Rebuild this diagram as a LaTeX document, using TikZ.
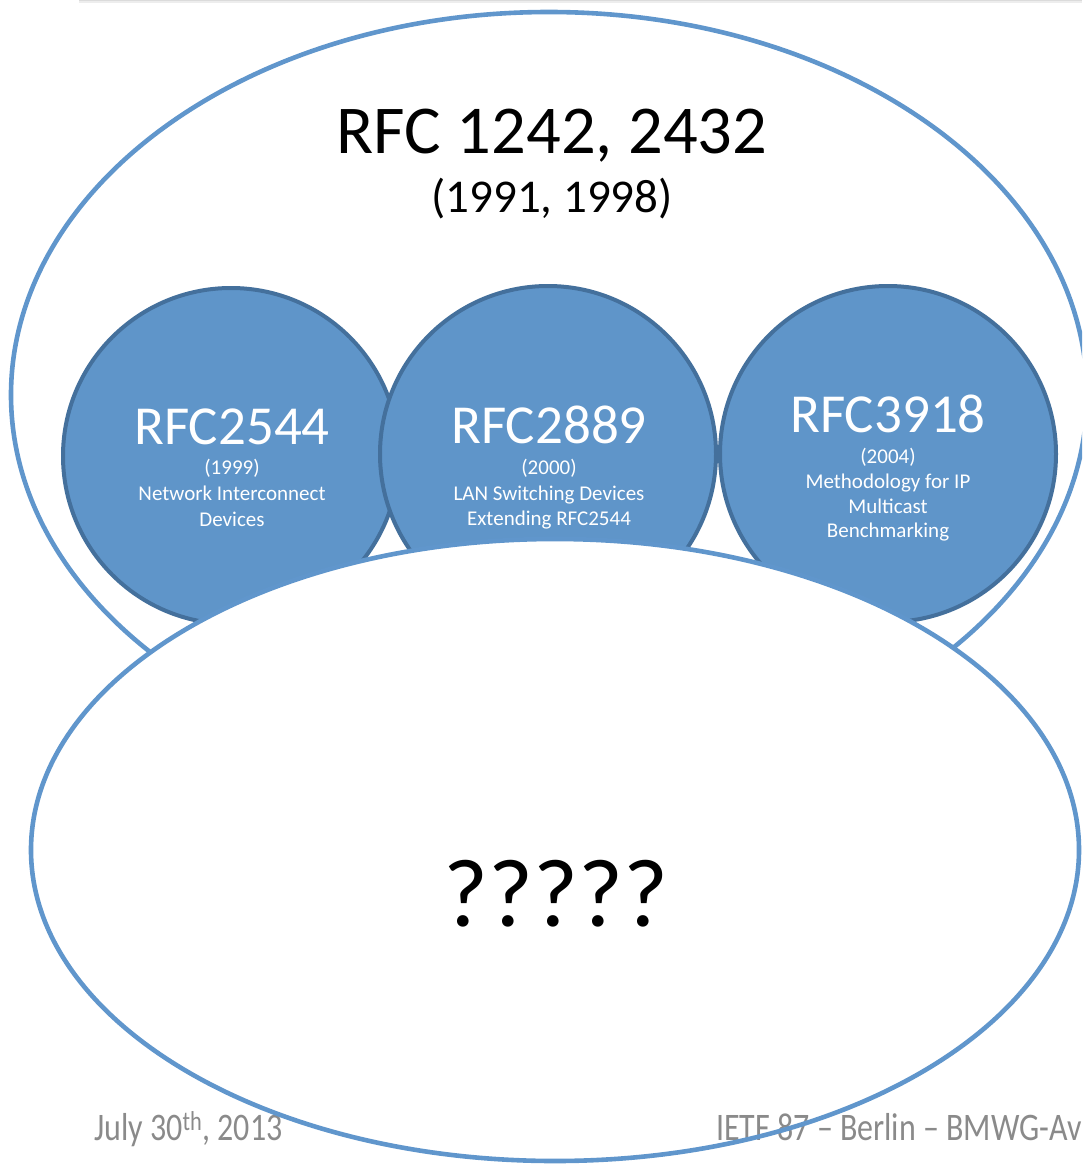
\documentclass[tikz,border=0pt]{standalone}
\usepackage{fontspec}
\setmainfont{Carlito}
\newfontfamily\footfont[FakeStretch=0.82]{Carlito}
\definecolor{ellline}{HTML}{6096CC}
\definecolor{circfill}{HTML}{5F95C9}
\definecolor{circline}{HTML}{44709C}
\definecolor{footgray}{HTML}{8A8A8A}
\tikzset{
  bigell/.style={draw=ellline, line width=4.6pt},
  rfccirc/.style={circle, draw=circline, fill=circfill, line width=4pt, minimum size=336pt, inner sep=0pt},
  rfchead/.style={anchor=base, inner sep=0pt, text=white, font=\fontsize{55}{60}\selectfont},
  rfcsub/.style={anchor=base, inner sep=0pt, text=white, font=\fontsize{21}{25}\selectfont},
  foottext/.style={anchor=base west, inner sep=0pt, text=footgray, font=\footfont\fontsize{39}{44}\selectfont}
}
\begin{document}
\begin{tikzpicture}[x=1pt,y=-1pt]
\useasboundingbox (0,0) rectangle (1082,1167);
\clip (0,0) rectangle (1082,1167);
% header shadow line
\fill[gray!14] (79,0) rectangle (1082,3);
\fill[gray!28] (79,0) rectangle (1082,1.2);
% outer top ellipse
\draw[bigell, fill=white] (549,395) ellipse [x radius=538, y radius=383];
\node[anchor=base, inner sep=0pt, font=\fontsize{68.5}{72}\selectfont] (title) at (552,153) {RFC 1242, 2432};
\node[anchor=base, inner sep=0pt, font=\fontsize{47}{50}\selectfont] (years) at (552,212) {(1991, 1998)};
% circles
\node[rfccirc] (c1) at (231,456) {};
\node[rfccirc] (c2) at (548,454) {};
\node[rfccirc] (c3) at (888,454) {};
% circle 1 text
\node[rfchead] (h1) at (232,444) {RFC2544};
\node[rfcsub] (y1) at (232,474) {(1999)};
\node[rfcsub] (a1) at (232,500) {Network Interconnect};
\node[rfcsub] (b1) at (232,526) {Devices};
% circle 2 text
\node[rfchead] (h2) at (549,443) {RFC2889};
\node[rfcsub] (y2) at (549,474) {(2000)};
\node[rfcsub] (a2) at (549,500) {LAN Switching Devices};
\node[rfcsub] (b2) at (549,525) {Extending RFC2544};
% circle 3 text
\node[rfchead] (h3) at (888,432) {RFC3918};
\node[rfcsub] (y3) at (888,463) {(2004)};
\node[rfcsub] (a3) at (888,488) {Methodology for IP};
\node[rfcsub] (b3) at (888,513) {Multicast};
\node[rfcsub] (d3) at (888,537) {Benchmarking};
% bottom ellipse
\fill[white] (555,850) ellipse [x radius=524, y radius=311];
\node[foottext] (date) at (94,1140) {July 30\textsuperscript{th}, 2013};
\node[foottext] (ietf) at (716,1140) {IETF 87 – Berlin – BMWG-Av};
\draw[bigell] (555,850) ellipse [x radius=524, y radius=311];
\node[anchor=base, inner sep=0pt, font=\fontsize{97}{100}\selectfont] (q) at (556,926) {?????};
\end{tikzpicture}
\end{document}
